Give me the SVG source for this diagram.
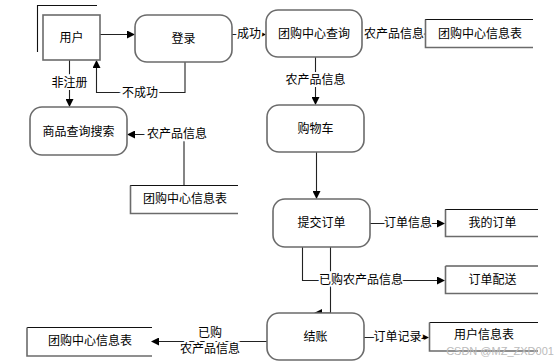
<svg xmlns="http://www.w3.org/2000/svg" width="555" height="361" viewBox="0 0 555 361">
<defs>
<marker id="ah" markerWidth="8" markerHeight="8" refX="7" refY="4" orient="auto" markerUnits="userSpaceOnUse">
<path d="M0,0 L8,4 L0,8 z" fill="#000"/>
</marker>
<style>
.box{fill:#fff;stroke:#6b6b6b;stroke-width:1.6}
.t{font-family:"Liberation Sans","Noto Sans CJK SC",sans-serif;font-size:12px;fill:#000;text-anchor:middle;dominant-baseline:central}
.lb{font-family:"Liberation Sans","Noto Sans CJK SC",sans-serif;font-size:12px;fill:#000;text-anchor:middle;dominant-baseline:central;stroke:#fff;stroke-width:4;paint-order:stroke}
.c{fill:none;stroke:#222;stroke-width:1.1}
.dsT{stroke:#111;stroke-width:1;fill:none}
.dsB{stroke:#6b6b6b;stroke-width:1.6;fill:none}
</style>
</defs>
<rect width="555" height="361" fill="#fff"/>
<g id="connectors">
<path class="c" d="M100,34.5 H134" marker-end="url(#ah)"/>
<path class="c" d="M232,34.5 H265" marker-end="url(#ah)"/>
<path class="c" d="M362,34 H425"/>
<path class="c" d="M315.5,57 V104" marker-end="url(#ah)"/>
<path class="c" d="M316.5,152 V198" marker-end="url(#ah)"/>
<path class="c" d="M69.5,60 V106" marker-end="url(#ah)"/>
<path class="c" d="M185,62 V92.5 H96.5 V61" marker-end="url(#ah)"/>
<path class="c" d="M184,185 V134.5 H128" marker-end="url(#ah)"/>
<path class="c" d="M370,223.5 H444" marker-end="url(#ah)"/>
<path class="c" d="M302.5,247 V280.5 H444" marker-end="url(#ah)"/>
<path class="c" d="M330.5,247 V313 H315" marker-end="url(#ah)"/>
<path class="c" d="M364,337.5 H428" marker-end="url(#ah)"/>
<path class="c" d="M267,341.5 H152" marker-end="url(#ah)"/>
<text class="lb" x="249" y="34">成功</text>
<text class="lb" x="394" y="34">农产品信息</text>
<text class="lb" x="315.5" y="80">农产品信息</text>
<text class="lb" x="69.5" y="83">非注册</text>
<text class="lb" x="140" y="92.5">不成功</text>
<text class="lb" x="177" y="134">农产品信息</text>
<text class="lb" x="408" y="223">订单信息</text>
<text class="lb" x="361" y="280">已购农产品信息</text>
<text class="lb" x="397.5" y="337">订单记录</text>
<text class="lb" x="210" y="333">已购</text>
<text class="lb" x="210" y="349">农产品信息</text>
</g>
<g id="user">
<path d="M37.5,52 V5.5 H97" fill="none" stroke="#111" stroke-width="1.1"/>
<rect class="box" x="43" y="15" width="57" height="45"/>
<text class="t" x="71.5" y="37.5">用户</text>
</g>
<g id="login">
<rect class="box" x="135" y="15" width="97" height="47" rx="12"/>
<text class="t" x="183.5" y="39">登录</text>
</g>
<g id="query">
<rect class="box" x="266" y="10" width="96" height="47" rx="12"/>
<text class="t" x="314" y="34">团购中心查询</text>
</g>
<g id="store-top">
<path class="dsT" d="M425,19.5 H533"/>
<path class="dsB" d="M425.5,19.5 V47.5 H533"/>
<text class="t" x="480" y="34">团购中心信息表</text>
</g>
<g id="cart">
<rect class="box" x="267" y="105" width="97" height="47" rx="12"/>
<text class="t" x="315.5" y="129">购物车</text>
</g>
<g id="search">
<rect class="box" x="30" y="107" width="97" height="48" rx="12"/>
<text class="t" x="78.5" y="132">商品查询搜索</text>
</g>
<g id="store-mid">
<path class="dsT" d="M130,185.5 H238"/>
<path class="dsB" d="M130.5,185.5 V213.5 H238"/>
<text class="t" x="185" y="199">团购中心信息表</text>
</g>
<g id="submit">
<rect class="box" x="273" y="199" width="97" height="48" rx="12"/>
<text class="t" x="321.5" y="223">提交订单</text>
</g>
<g id="my-order">
<path class="dsT" d="M445,209.5 H538"/>
<path class="dsB" d="M445.5,209.5 V236.5 H538"/>
<text class="t" x="492.5" y="223">我的订单</text>
</g>
<g id="delivery">
<path class="dsT" d="M445.5,266 H538"/>
<path class="dsB" d="M445.5,266 V293.5 H538"/>
<text class="t" x="492.5" y="280">订单配送</text>
</g>
<g id="checkout">
<rect class="box" x="267" y="313" width="97" height="47" rx="12"/>
<text class="t" x="315.5" y="337">结账</text>
</g>
<g id="user-table">
<path class="dsT" d="M429.5,322.5 H538"/>
<path class="dsB" d="M429.5,322.5 V351 H538"/>
<text class="t" x="484" y="335">用户信息表</text>
</g>
<g id="store-bottom">
<path class="dsT" d="M27,327.5 H152"/>
<path class="dsB" d="M27,327.5 V356 H152"/>
<text class="t" x="90" y="341">团购中心信息表</text>
</g>
<text x="500" y="351" font-family="Liberation Sans,sans-serif" font-size="11" fill="#bbb" text-anchor="middle" dominant-baseline="central">CSDN @MZ_ZXD001</text>
</svg>
